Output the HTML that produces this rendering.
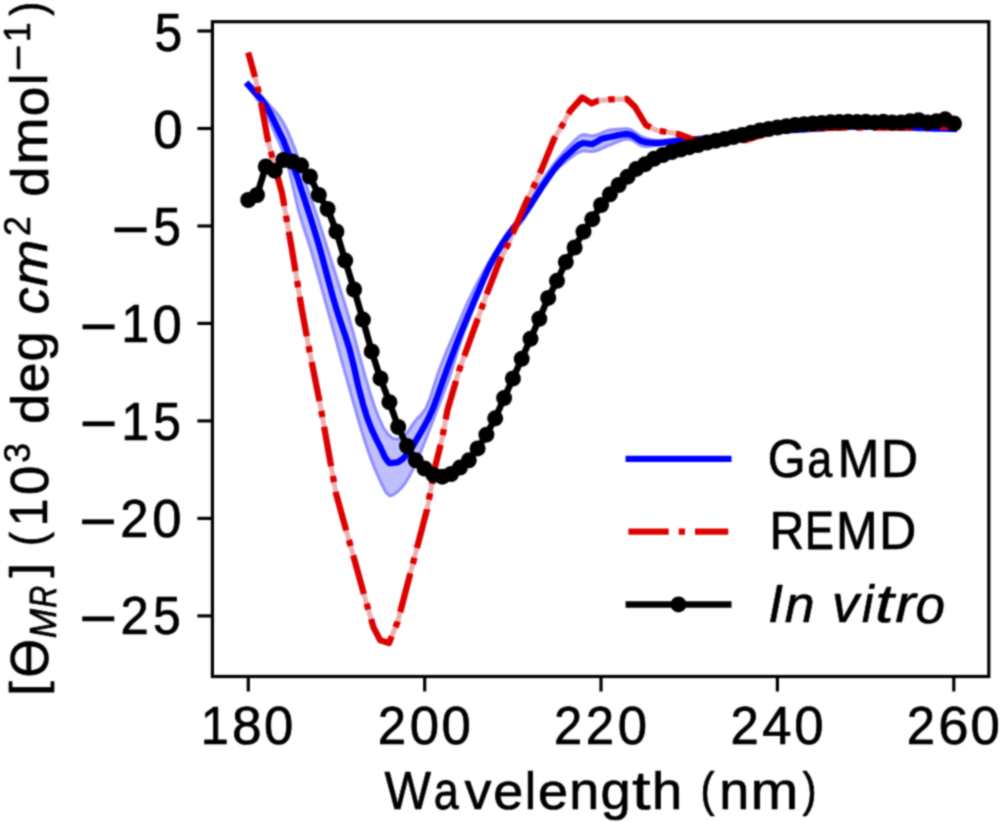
<!DOCTYPE html>
<html><head><meta charset="utf-8"><title>CD spectra</title><style>html,body{margin:0;padding:0;background:#fff;width:1001px;height:822px;overflow:hidden}svg{display:block;font-family:"Liberation Sans", sans-serif}</style></head><body>
<svg width="1001" height="822" viewBox="0 0 1001 822">
<rect x="0" y="0" width="1001" height="822" fill="#fff"/>
<defs><filter id="bl" x="0" y="0" width="1001" height="822" filterUnits="userSpaceOnUse" color-interpolation-filters="sRGB"><feConvolveMatrix order="5" kernelMatrix="0.00023 0.00332 0.00809 0.00332 0.00023 0.00332 0.04785 0.11640 0.04785 0.00332 0.00809 0.11640 0.28313 0.11640 0.00809 0.00332 0.04785 0.11640 0.04785 0.00332 0.00023 0.00332 0.00809 0.00332 0.00023" divisor="1" edgeMode="duplicate" preserveAlpha="true"/></filter></defs>
<g filter="url(#bl)">
<rect x="0" y="0" width="1001" height="822" fill="#fff"/>
<defs><clipPath id="ax"><rect x="212.4" y="21.7" width="776.4" height="654.8"/></clipPath></defs>
<g clip-path="url(#ax)">
<clipPath id="bandclip"><polygon points="248.2,80.5 252.6,84.6 257.0,89.0 261.4,93.8 265.8,98.8 270.2,103.8 274.7,108.7 279.1,113.7 283.5,120.2 287.9,128.3 292.3,138.5 296.7,149.6 301.1,161.9 305.5,179.0 309.9,191.3 314.3,203.6 318.8,216.7 323.2,230.5 327.6,244.6 332.0,258.4 336.4,272.3 340.8,286.2 345.2,300.2 349.6,314.8 354.0,330.3 358.4,346.5 362.9,362.7 367.3,378.5 371.7,393.3 376.1,406.7 380.5,418.1 384.9,427.5 389.3,433.6 393.7,437.3 398.1,437.6 402.5,435.0 407.0,430.8 411.4,423.8 415.8,418.1 420.2,413.6 424.6,407.8 429.0,397.1 433.4,382.8 437.8,369.4 442.2,358.2 446.6,347.6 451.1,337.2 455.5,326.8 459.9,316.5 464.3,306.3 468.7,296.7 473.1,287.8 477.5,279.4 481.9,271.4 486.3,263.7 490.7,256.2 495.2,248.9 499.6,241.7 504.0,235.0 508.4,228.9 512.8,223.6 517.2,218.7 521.6,213.5 526.0,207.3 530.4,199.2 534.8,190.2 539.3,182.5 543.7,175.7 548.1,169.4 552.5,163.5 556.9,157.9 561.3,152.5 565.7,147.5 570.1,143.1 574.5,138.7 578.9,134.8 583.4,133.0 587.8,133.8 592.2,134.5 596.6,133.5 601.0,131.7 605.4,129.7 609.8,128.5 614.2,128.1 618.6,127.7 623.0,127.4 627.5,127.3 631.9,128.4 636.3,131.2 640.7,134.4 645.1,136.4 649.5,137.8 653.9,138.8 658.3,139.0 662.7,138.8 667.1,138.5 671.6,138.0 676.0,137.6 680.4,137.1 684.8,136.8 689.2,136.4 693.6,136.1 698.0,135.8 702.4,135.4 706.8,135.1 711.2,134.7 715.7,134.4 720.1,134.0 724.5,133.6 728.9,133.2 733.3,132.7 737.7,132.3 742.1,131.8 746.5,131.3 750.9,130.8 755.3,130.3 759.8,129.9 764.2,129.4 768.6,129.0 773.0,128.6 777.4,128.2 781.8,127.9 786.2,127.5 790.6,127.2 795.0,126.9 799.4,126.7 803.9,126.4 808.3,126.1 812.7,125.8 817.1,125.6 821.5,125.3 825.9,125.1 830.3,124.7 834.7,124.4 839.1,124.1 843.5,123.8 848.0,123.6 852.4,123.5 856.8,123.5 861.2,123.5 865.6,123.6 870.0,123.7 874.4,123.8 878.8,123.9 883.2,124.1 887.6,124.2 892.1,124.3 896.5,124.5 900.9,124.6 905.3,124.7 909.7,124.8 914.1,124.9 918.5,125.0 922.9,125.1 927.3,125.3 931.7,125.4 936.2,125.5 940.6,125.6 945.0,125.7 949.4,125.9 953.8,126.0 953.8,132.0 949.4,131.9 945.0,131.7 940.6,131.6 936.2,131.5 931.7,131.4 927.3,131.3 922.9,131.1 918.5,131.0 914.1,130.9 909.7,130.8 905.3,130.7 900.9,130.6 896.5,130.5 892.1,130.3 887.6,130.2 883.2,130.1 878.8,129.9 874.4,129.8 870.0,129.7 865.6,129.6 861.2,129.5 856.8,129.5 852.4,129.5 848.0,129.6 843.5,129.8 839.1,130.1 834.7,130.4 830.3,130.7 825.9,131.1 821.5,131.3 817.1,131.6 812.7,131.8 808.3,132.1 803.9,132.4 799.4,132.7 795.0,132.9 790.6,133.2 786.2,133.5 781.8,133.9 777.4,134.2 773.0,134.6 768.6,135.0 764.2,135.4 759.8,135.8 755.3,136.3 750.9,136.8 746.5,137.2 742.1,137.7 737.7,138.2 733.3,138.7 728.9,139.1 724.5,139.6 720.1,140.0 715.7,140.4 711.2,140.8 706.8,141.2 702.4,141.5 698.0,141.9 693.6,142.3 689.2,142.7 684.8,143.2 680.4,143.7 676.0,144.3 671.6,145.0 667.1,145.6 662.7,146.3 658.3,146.8 653.9,147.3 649.5,147.7 645.1,148.0 640.7,147.2 636.3,144.4 631.9,141.6 627.5,140.5 623.0,141.3 618.6,142.9 614.2,144.8 609.8,146.6 605.4,148.4 601.0,150.4 596.6,152.2 592.2,153.0 587.8,152.7 583.4,152.3 578.9,153.7 574.5,156.7 570.1,160.0 565.7,163.4 561.3,167.1 556.9,171.4 552.5,176.1 548.1,181.4 543.7,187.2 539.3,193.6 534.8,201.1 530.4,210.1 526.0,218.3 521.6,224.4 517.2,229.7 512.8,234.6 508.4,239.9 504.0,245.9 499.6,252.4 495.2,259.7 490.7,268.3 486.3,279.6 481.9,291.2 477.5,302.1 473.1,312.9 468.7,324.0 464.3,335.6 459.9,348.4 455.5,362.7 451.1,376.9 446.6,389.2 442.2,400.7 437.8,412.0 433.4,423.6 429.0,435.0 424.6,446.0 420.2,456.7 415.8,466.8 411.4,475.4 407.0,483.1 402.5,488.9 398.1,493.0 393.7,496.3 389.3,497.5 384.9,493.5 380.5,484.9 376.1,475.2 371.7,465.0 367.3,452.9 362.9,439.8 358.4,424.9 354.0,409.7 349.6,394.2 345.2,378.6 340.8,362.8 336.4,346.8 332.0,330.9 327.6,315.0 323.2,299.1 318.8,283.0 314.3,266.9 309.9,251.5 305.5,237.5 301.1,224.3 296.7,209.6 292.3,190.3 287.9,171.6 283.5,157.5 279.1,145.9 274.7,136.5 270.2,125.9 265.8,115.3 261.4,107.9 257.0,101.5 252.6,95.1 248.2,89.0"/></clipPath>
<polygon points="248.2,80.5 252.6,84.6 257.0,89.0 261.4,93.8 265.8,98.8 270.2,103.8 274.7,108.7 279.1,113.7 283.5,120.2 287.9,128.3 292.3,138.5 296.7,149.6 301.1,161.9 305.5,179.0 309.9,191.3 314.3,203.6 318.8,216.7 323.2,230.5 327.6,244.6 332.0,258.4 336.4,272.3 340.8,286.2 345.2,300.2 349.6,314.8 354.0,330.3 358.4,346.5 362.9,362.7 367.3,378.5 371.7,393.3 376.1,406.7 380.5,418.1 384.9,427.5 389.3,433.6 393.7,437.3 398.1,437.6 402.5,435.0 407.0,430.8 411.4,423.8 415.8,418.1 420.2,413.6 424.6,407.8 429.0,397.1 433.4,382.8 437.8,369.4 442.2,358.2 446.6,347.6 451.1,337.2 455.5,326.8 459.9,316.5 464.3,306.3 468.7,296.7 473.1,287.8 477.5,279.4 481.9,271.4 486.3,263.7 490.7,256.2 495.2,248.9 499.6,241.7 504.0,235.0 508.4,228.9 512.8,223.6 517.2,218.7 521.6,213.5 526.0,207.3 530.4,199.2 534.8,190.2 539.3,182.5 543.7,175.7 548.1,169.4 552.5,163.5 556.9,157.9 561.3,152.5 565.7,147.5 570.1,143.1 574.5,138.7 578.9,134.8 583.4,133.0 587.8,133.8 592.2,134.5 596.6,133.5 601.0,131.7 605.4,129.7 609.8,128.5 614.2,128.1 618.6,127.7 623.0,127.4 627.5,127.3 631.9,128.4 636.3,131.2 640.7,134.4 645.1,136.4 649.5,137.8 653.9,138.8 658.3,139.0 662.7,138.8 667.1,138.5 671.6,138.0 676.0,137.6 680.4,137.1 684.8,136.8 689.2,136.4 693.6,136.1 698.0,135.8 702.4,135.4 706.8,135.1 711.2,134.7 715.7,134.4 720.1,134.0 724.5,133.6 728.9,133.2 733.3,132.7 737.7,132.3 742.1,131.8 746.5,131.3 750.9,130.8 755.3,130.3 759.8,129.9 764.2,129.4 768.6,129.0 773.0,128.6 777.4,128.2 781.8,127.9 786.2,127.5 790.6,127.2 795.0,126.9 799.4,126.7 803.9,126.4 808.3,126.1 812.7,125.8 817.1,125.6 821.5,125.3 825.9,125.1 830.3,124.7 834.7,124.4 839.1,124.1 843.5,123.8 848.0,123.6 852.4,123.5 856.8,123.5 861.2,123.5 865.6,123.6 870.0,123.7 874.4,123.8 878.8,123.9 883.2,124.1 887.6,124.2 892.1,124.3 896.5,124.5 900.9,124.6 905.3,124.7 909.7,124.8 914.1,124.9 918.5,125.0 922.9,125.1 927.3,125.3 931.7,125.4 936.2,125.5 940.6,125.6 945.0,125.7 949.4,125.9 953.8,126.0 953.8,132.0 949.4,131.9 945.0,131.7 940.6,131.6 936.2,131.5 931.7,131.4 927.3,131.3 922.9,131.1 918.5,131.0 914.1,130.9 909.7,130.8 905.3,130.7 900.9,130.6 896.5,130.5 892.1,130.3 887.6,130.2 883.2,130.1 878.8,129.9 874.4,129.8 870.0,129.7 865.6,129.6 861.2,129.5 856.8,129.5 852.4,129.5 848.0,129.6 843.5,129.8 839.1,130.1 834.7,130.4 830.3,130.7 825.9,131.1 821.5,131.3 817.1,131.6 812.7,131.8 808.3,132.1 803.9,132.4 799.4,132.7 795.0,132.9 790.6,133.2 786.2,133.5 781.8,133.9 777.4,134.2 773.0,134.6 768.6,135.0 764.2,135.4 759.8,135.8 755.3,136.3 750.9,136.8 746.5,137.2 742.1,137.7 737.7,138.2 733.3,138.7 728.9,139.1 724.5,139.6 720.1,140.0 715.7,140.4 711.2,140.8 706.8,141.2 702.4,141.5 698.0,141.9 693.6,142.3 689.2,142.7 684.8,143.2 680.4,143.7 676.0,144.3 671.6,145.0 667.1,145.6 662.7,146.3 658.3,146.8 653.9,147.3 649.5,147.7 645.1,148.0 640.7,147.2 636.3,144.4 631.9,141.6 627.5,140.5 623.0,141.3 618.6,142.9 614.2,144.8 609.8,146.6 605.4,148.4 601.0,150.4 596.6,152.2 592.2,153.0 587.8,152.7 583.4,152.3 578.9,153.7 574.5,156.7 570.1,160.0 565.7,163.4 561.3,167.1 556.9,171.4 552.5,176.1 548.1,181.4 543.7,187.2 539.3,193.6 534.8,201.1 530.4,210.1 526.0,218.3 521.6,224.4 517.2,229.7 512.8,234.6 508.4,239.9 504.0,245.9 499.6,252.4 495.2,259.7 490.7,268.3 486.3,279.6 481.9,291.2 477.5,302.1 473.1,312.9 468.7,324.0 464.3,335.6 459.9,348.4 455.5,362.7 451.1,376.9 446.6,389.2 442.2,400.7 437.8,412.0 433.4,423.6 429.0,435.0 424.6,446.0 420.2,456.7 415.8,466.8 411.4,475.4 407.0,483.1 402.5,488.9 398.1,493.0 393.7,496.3 389.3,497.5 384.9,493.5 380.5,484.9 376.1,475.2 371.7,465.0 367.3,452.9 362.9,439.8 358.4,424.9 354.0,409.7 349.6,394.2 345.2,378.6 340.8,362.8 336.4,346.8 332.0,330.9 327.6,315.0 323.2,299.1 318.8,283.0 314.3,266.9 309.9,251.5 305.5,237.5 301.1,224.3 296.7,209.6 292.3,190.3 287.9,171.6 283.5,157.5 279.1,145.9 274.7,136.5 270.2,125.9 265.8,115.3 261.4,107.9 257.0,101.5 252.6,95.1 248.2,89.0" fill="#0000ff" fill-opacity="0.25"/>
<polygon points="248.2,80.5 252.6,84.6 257.0,89.0 261.4,93.8 265.8,98.8 270.2,103.8 274.7,108.7 279.1,113.7 283.5,120.2 287.9,128.3 292.3,138.5 296.7,149.6 301.1,161.9 305.5,179.0 309.9,191.3 314.3,203.6 318.8,216.7 323.2,230.5 327.6,244.6 332.0,258.4 336.4,272.3 340.8,286.2 345.2,300.2 349.6,314.8 354.0,330.3 358.4,346.5 362.9,362.7 367.3,378.5 371.7,393.3 376.1,406.7 380.5,418.1 384.9,427.5 389.3,433.6 393.7,437.3 398.1,437.6 402.5,435.0 407.0,430.8 411.4,423.8 415.8,418.1 420.2,413.6 424.6,407.8 429.0,397.1 433.4,382.8 437.8,369.4 442.2,358.2 446.6,347.6 451.1,337.2 455.5,326.8 459.9,316.5 464.3,306.3 468.7,296.7 473.1,287.8 477.5,279.4 481.9,271.4 486.3,263.7 490.7,256.2 495.2,248.9 499.6,241.7 504.0,235.0 508.4,228.9 512.8,223.6 517.2,218.7 521.6,213.5 526.0,207.3 530.4,199.2 534.8,190.2 539.3,182.5 543.7,175.7 548.1,169.4 552.5,163.5 556.9,157.9 561.3,152.5 565.7,147.5 570.1,143.1 574.5,138.7 578.9,134.8 583.4,133.0 587.8,133.8 592.2,134.5 596.6,133.5 601.0,131.7 605.4,129.7 609.8,128.5 614.2,128.1 618.6,127.7 623.0,127.4 627.5,127.3 631.9,128.4 636.3,131.2 640.7,134.4 645.1,136.4 649.5,137.8 653.9,138.8 658.3,139.0 662.7,138.8 667.1,138.5 671.6,138.0 676.0,137.6 680.4,137.1 684.8,136.8 689.2,136.4 693.6,136.1 698.0,135.8 702.4,135.4 706.8,135.1 711.2,134.7 715.7,134.4 720.1,134.0 724.5,133.6 728.9,133.2 733.3,132.7 737.7,132.3 742.1,131.8 746.5,131.3 750.9,130.8 755.3,130.3 759.8,129.9 764.2,129.4 768.6,129.0 773.0,128.6 777.4,128.2 781.8,127.9 786.2,127.5 790.6,127.2 795.0,126.9 799.4,126.7 803.9,126.4 808.3,126.1 812.7,125.8 817.1,125.6 821.5,125.3 825.9,125.1 830.3,124.7 834.7,124.4 839.1,124.1 843.5,123.8 848.0,123.6 852.4,123.5 856.8,123.5 861.2,123.5 865.6,123.6 870.0,123.7 874.4,123.8 878.8,123.9 883.2,124.1 887.6,124.2 892.1,124.3 896.5,124.5 900.9,124.6 905.3,124.7 909.7,124.8 914.1,124.9 918.5,125.0 922.9,125.1 927.3,125.3 931.7,125.4 936.2,125.5 940.6,125.6 945.0,125.7 949.4,125.9 953.8,126.0 953.8,132.0 949.4,131.9 945.0,131.7 940.6,131.6 936.2,131.5 931.7,131.4 927.3,131.3 922.9,131.1 918.5,131.0 914.1,130.9 909.7,130.8 905.3,130.7 900.9,130.6 896.5,130.5 892.1,130.3 887.6,130.2 883.2,130.1 878.8,129.9 874.4,129.8 870.0,129.7 865.6,129.6 861.2,129.5 856.8,129.5 852.4,129.5 848.0,129.6 843.5,129.8 839.1,130.1 834.7,130.4 830.3,130.7 825.9,131.1 821.5,131.3 817.1,131.6 812.7,131.8 808.3,132.1 803.9,132.4 799.4,132.7 795.0,132.9 790.6,133.2 786.2,133.5 781.8,133.9 777.4,134.2 773.0,134.6 768.6,135.0 764.2,135.4 759.8,135.8 755.3,136.3 750.9,136.8 746.5,137.2 742.1,137.7 737.7,138.2 733.3,138.7 728.9,139.1 724.5,139.6 720.1,140.0 715.7,140.4 711.2,140.8 706.8,141.2 702.4,141.5 698.0,141.9 693.6,142.3 689.2,142.7 684.8,143.2 680.4,143.7 676.0,144.3 671.6,145.0 667.1,145.6 662.7,146.3 658.3,146.8 653.9,147.3 649.5,147.7 645.1,148.0 640.7,147.2 636.3,144.4 631.9,141.6 627.5,140.5 623.0,141.3 618.6,142.9 614.2,144.8 609.8,146.6 605.4,148.4 601.0,150.4 596.6,152.2 592.2,153.0 587.8,152.7 583.4,152.3 578.9,153.7 574.5,156.7 570.1,160.0 565.7,163.4 561.3,167.1 556.9,171.4 552.5,176.1 548.1,181.4 543.7,187.2 539.3,193.6 534.8,201.1 530.4,210.1 526.0,218.3 521.6,224.4 517.2,229.7 512.8,234.6 508.4,239.9 504.0,245.9 499.6,252.4 495.2,259.7 490.7,268.3 486.3,279.6 481.9,291.2 477.5,302.1 473.1,312.9 468.7,324.0 464.3,335.6 459.9,348.4 455.5,362.7 451.1,376.9 446.6,389.2 442.2,400.7 437.8,412.0 433.4,423.6 429.0,435.0 424.6,446.0 420.2,456.7 415.8,466.8 411.4,475.4 407.0,483.1 402.5,488.9 398.1,493.0 393.7,496.3 389.3,497.5 384.9,493.5 380.5,484.9 376.1,475.2 371.7,465.0 367.3,452.9 362.9,439.8 358.4,424.9 354.0,409.7 349.6,394.2 345.2,378.6 340.8,362.8 336.4,346.8 332.0,330.9 327.6,315.0 323.2,299.1 318.8,283.0 314.3,266.9 309.9,251.5 305.5,237.5 301.1,224.3 296.7,209.6 292.3,190.3 287.9,171.6 283.5,157.5 279.1,145.9 274.7,136.5 270.2,125.9 265.8,115.3 261.4,107.9 257.0,101.5 252.6,95.1 248.2,89.0" fill="none" clip-path="url(#bandclip)" stroke="#0000ff" stroke-opacity="0.25" stroke-width="6.0" stroke-linejoin="round"/>
<polyline points="248.2,52.5 255.8,80.0 260.9,101.9 267.5,138.3 271.9,155.8 282.0,193.0 291.7,248.3 301.9,309.9 309.4,350.4 320.1,404.0 328.2,450.0 336.0,493.5 349.4,541.7 364.2,595.2 373.5,627.4 380.2,640.2 389.0,643.0 397.6,622.0 413.7,560.4 427.0,509.6 435.1,466.8 441.8,440.0 447.5,409.9 459.2,370.2 472.3,333.8 486.0,296.0 499.2,261.8 509.4,241.3 525.5,203.4 534.0,185.8 542.0,168.4 554.1,138.9 562.1,125.5 570.2,110.8 582.2,97.4 591.6,103.4 598.3,100.7 610.0,99.4 627.0,98.9 635.1,107.0 645.9,125.0 656.7,130.4 678.3,134.0 692.7,139.4 720.0,141.0 746.0,140.0 780.0,129.0 820.0,128.0 870.0,127.5 907.0,127.5 953.8,126.5" fill="none" stroke="#eeb0b0" stroke-width="5.0" stroke-linejoin="round" stroke-linecap="butt"/>
<polyline points="248.2,85.0 252.6,89.8 257.0,94.6 261.4,99.4 265.8,105.5 270.2,113.2 274.7,122.3 279.1,131.7 283.5,140.5 287.9,152.1 292.3,163.3 296.7,175.3 301.1,189.0 305.5,202.2 309.9,215.7 314.3,229.9 318.8,244.8 323.2,260.8 327.6,277.4 332.0,293.7 336.4,309.0 340.8,322.4 345.2,335.2 349.6,349.3 354.0,367.0 358.4,386.7 362.9,403.8 367.3,418.2 371.7,429.4 376.1,438.9 380.5,447.5 384.9,457.3 389.3,463.0 393.7,462.8 398.1,462.2 402.5,459.2 407.0,454.4 411.4,448.4 415.8,440.9 420.2,433.3 424.6,425.6 429.0,417.2 433.4,407.4 437.8,395.2 442.2,382.5 446.6,370.3 451.1,358.2 455.5,346.6 459.9,335.4 464.3,324.6 468.7,314.0 473.1,303.7 477.5,293.5 481.9,283.3 486.3,273.2 490.7,263.9 495.2,255.6 499.6,248.2 504.0,241.3 508.4,234.8 512.8,228.9 517.2,223.4 521.6,217.8 526.0,211.7 530.4,205.2 534.8,198.3 539.3,191.3 543.7,184.4 548.1,177.9 552.5,171.6 556.9,165.9 561.3,160.9 565.7,156.3 570.1,152.4 574.5,148.3 578.9,144.7 583.4,143.0 587.8,143.6 592.2,144.2 596.6,141.8 601.0,139.0 605.4,137.9 609.8,137.0 614.2,136.1 618.6,135.1 623.0,134.4 627.5,134.0 631.9,135.1 636.3,137.9 640.7,140.8 645.1,142.1 649.5,142.6 653.9,142.9 658.3,143.0 662.7,142.7 667.1,142.2 671.6,141.6 676.0,141.0 680.4,140.5 684.8,140.1 689.2,139.8 693.6,139.5 698.0,139.2 702.4,138.8 706.8,138.4 711.2,137.9 715.7,137.4 720.1,137.0 724.5,136.6 728.9,136.1 733.3,135.7 737.7,135.2 742.1,134.8 746.5,134.3 750.9,133.9 755.3,133.4 759.8,133.0 764.2,132.5 768.6,132.1 773.0,131.6 777.4,131.2 781.8,130.9 786.2,130.5 790.6,130.2 795.0,129.9 799.4,129.6 803.9,129.4 808.3,129.1 812.7,128.8 817.1,128.6 821.5,128.3 825.9,128.1 830.3,127.7 834.7,127.4 839.1,127.1 843.5,126.8 848.0,126.6 852.4,126.5 856.8,126.5 861.2,126.5 865.6,126.6 870.0,126.7 874.4,126.8 878.8,126.9 883.2,127.1 887.6,127.2 892.1,127.3 896.5,127.5 900.9,127.6 905.3,127.7 909.7,127.8 914.1,127.9 918.5,128.0 922.9,128.1 927.3,128.3 931.7,128.4 936.2,128.5 940.6,128.6 945.0,128.7 949.4,128.9 953.8,129.0" fill="none" stroke="#0000ff" stroke-width="6.3" stroke-linejoin="round" stroke-linecap="square"/>
<path d="M248.2,52.5 L255.0,77.0 M257.4,86.7 L258.8,92.7 M261.0,102.5 L267.5,138.3 L268.4,142.0 M270.8,151.5 L271.9,155.8 L272.4,157.7 M275.0,167.1 L282.0,193.0 L284.3,206.0 M286.0,215.8 L287.1,222.0 M288.8,231.8 L291.7,248.3 L295.5,271.2 M297.1,280.9 L298.1,287.2 M299.7,296.9 L301.9,309.9 L306.8,336.3 M308.6,346.1 L309.4,350.4 L309.8,352.2 M311.7,362.0 L319.5,401.2 M321.3,410.9 L322.4,417.0 M324.1,426.8 L328.2,450.0 L331.1,466.2 M332.9,476.0 L334.0,482.1 M335.7,491.8 L336.0,493.5 L346.2,530.4 M348.9,540.0 L349.4,541.7 L350.6,546.0 M353.2,555.4 L363.9,594.0 M366.6,603.6 L368.3,609.5 M371.1,619.0 L373.5,627.4 L380.2,640.2 L389.0,643.0 L391.7,636.4 M395.4,627.3 L397.6,622.0 L397.7,621.6 M400.2,612.1 L410.3,573.4 M412.8,563.9 L413.7,560.4 L414.4,557.7 M416.9,548.0 L427.0,509.6 L427.0,509.3 M428.9,499.7 L430.1,493.4 M431.9,483.8 L435.1,466.8 L440.6,444.8 M442.7,435.2 L443.9,429.1 M445.7,419.3 L447.5,409.9 L456.0,380.9 M458.9,371.3 L459.2,370.2 L460.9,365.4 M464.3,356.0 L472.3,333.8 L477.8,318.6 M481.2,309.2 L483.3,303.4 M486.7,294.2 L499.2,261.8 L501.6,257.1 M505.9,248.3 L508.8,242.6 M512.7,233.6 L525.5,203.4 L528.6,196.9 M532.9,188.1 L534.0,185.8 L535.6,182.3 M539.7,173.4 L542.0,168.4 L554.1,138.9 L555.5,136.6 M560.6,128.0 L562.1,125.5 L563.7,122.7 M568.5,113.9 L570.2,110.8 L582.2,97.4 L591.6,103.4 L598.3,100.7 L598.6,100.7 M608.3,99.6 L610.0,99.4 L614.7,99.3 M624.7,99.0 L627.0,98.9 L635.1,107.0 L645.9,125.0 L650.6,127.4 M659.8,130.9 L666.2,132.0 M676.0,133.6 L678.3,134.0 L692.7,139.4 L715.2,140.7 M725.2,140.8 L731.6,140.6 M741.5,140.2 L746.0,140.0 L780.0,129.0 L780.0,129.0 M790.0,128.7 L796.4,128.6 M806.4,128.3 L820.0,128.0 L846.6,127.7 M856.6,127.6 L863.0,127.6 M873.0,127.5 L907.0,127.5 L913.2,127.4 M923.2,127.2 L929.6,127.0 M939.6,126.8 L953.8,126.5" fill="none" stroke="#dc0000" stroke-width="6.3" stroke-linejoin="round" stroke-linecap="butt"/>
<polyline points="248.2,200.0 257.0,195.0 265.8,166.5 274.7,170.7 283.5,160.0 292.3,161.5 301.1,165.3 310.0,176.5 318.8,194.9 327.6,209.0 336.4,231.5 345.2,260.6 354.1,289.5 362.9,319.6 371.7,351.4 380.5,378.4 389.4,402.2 398.2,427.0 407.0,446.0 415.8,460.3 424.6,468.5 433.5,474.9 442.3,476.7 451.1,474.0 459.9,467.6 468.8,460.3 477.6,448.4 486.4,434.7 495.2,418.3 504.1,398.0 512.9,378.5 521.7,358.8 530.5,338.8 539.3,318.8 548.2,297.9 557.0,280.8 565.8,262.1 574.6,247.5 583.5,231.7 592.3,219.2 601.1,205.0 609.9,194.3 618.7,185.0 627.6,176.7 636.4,168.9 645.2,164.2 654.0,158.8 662.9,155.0 671.7,152.0 680.5,149.5 689.3,147.2 698.1,145.0 707.0,142.6 715.8,140.8 724.6,139.0 733.4,137.0 742.3,135.0 751.1,132.7 759.9,130.5 768.7,129.0 777.5,127.5 786.4,126.2 795.2,125.0 804.0,124.2 812.8,123.5 821.7,122.9 830.5,122.3 839.3,122.0 848.1,121.8 857.0,122.0 865.8,121.8 874.6,122.4 883.4,121.8 892.2,122.4 901.1,122.4 909.9,121.3 918.7,120.2 927.5,122.4 936.4,121.3 945.2,119.3 954.0,123.5" fill="none" stroke="#000" stroke-width="6.5" stroke-linejoin="round" stroke-linecap="square"/>
<g fill="#000"><circle cx="248.2" cy="200.0" r="8.0"/><circle cx="257.0" cy="195.0" r="8.0"/><circle cx="265.8" cy="166.5" r="8.0"/><circle cx="274.7" cy="170.7" r="8.0"/><circle cx="283.5" cy="160.0" r="8.0"/><circle cx="292.3" cy="161.5" r="8.0"/><circle cx="301.1" cy="165.3" r="8.0"/><circle cx="310.0" cy="176.5" r="8.0"/><circle cx="318.8" cy="194.9" r="8.0"/><circle cx="327.6" cy="209.0" r="8.0"/><circle cx="336.4" cy="231.5" r="8.0"/><circle cx="345.2" cy="260.6" r="8.0"/><circle cx="354.1" cy="289.5" r="8.0"/><circle cx="362.9" cy="319.6" r="8.0"/><circle cx="371.7" cy="351.4" r="8.0"/><circle cx="380.5" cy="378.4" r="8.0"/><circle cx="389.4" cy="402.2" r="8.0"/><circle cx="398.2" cy="427.0" r="8.0"/><circle cx="407.0" cy="446.0" r="8.0"/><circle cx="415.8" cy="460.3" r="8.0"/><circle cx="424.6" cy="468.5" r="8.0"/><circle cx="433.5" cy="474.9" r="8.0"/><circle cx="442.3" cy="476.7" r="8.0"/><circle cx="451.1" cy="474.0" r="8.0"/><circle cx="459.9" cy="467.6" r="8.0"/><circle cx="468.8" cy="460.3" r="8.0"/><circle cx="477.6" cy="448.4" r="8.0"/><circle cx="486.4" cy="434.7" r="8.0"/><circle cx="495.2" cy="418.3" r="8.0"/><circle cx="504.1" cy="398.0" r="8.0"/><circle cx="512.9" cy="378.5" r="8.0"/><circle cx="521.7" cy="358.8" r="8.0"/><circle cx="530.5" cy="338.8" r="8.0"/><circle cx="539.3" cy="318.8" r="8.0"/><circle cx="548.2" cy="297.9" r="8.0"/><circle cx="557.0" cy="280.8" r="8.0"/><circle cx="565.8" cy="262.1" r="8.0"/><circle cx="574.6" cy="247.5" r="8.0"/><circle cx="583.5" cy="231.7" r="8.0"/><circle cx="592.3" cy="219.2" r="8.0"/><circle cx="601.1" cy="205.0" r="8.0"/><circle cx="609.9" cy="194.3" r="8.0"/><circle cx="618.7" cy="185.0" r="8.0"/><circle cx="627.6" cy="176.7" r="8.0"/><circle cx="636.4" cy="168.9" r="8.0"/><circle cx="645.2" cy="164.2" r="8.0"/><circle cx="654.0" cy="158.8" r="8.0"/><circle cx="662.9" cy="155.0" r="8.0"/><circle cx="671.7" cy="152.0" r="8.0"/><circle cx="680.5" cy="149.5" r="8.0"/><circle cx="689.3" cy="147.2" r="8.0"/><circle cx="698.1" cy="145.0" r="8.0"/><circle cx="707.0" cy="142.6" r="8.0"/><circle cx="715.8" cy="140.8" r="8.0"/><circle cx="724.6" cy="139.0" r="8.0"/><circle cx="733.4" cy="137.0" r="8.0"/><circle cx="742.3" cy="135.0" r="8.0"/><circle cx="751.1" cy="132.7" r="8.0"/><circle cx="759.9" cy="130.5" r="8.0"/><circle cx="768.7" cy="129.0" r="8.0"/><circle cx="777.5" cy="127.5" r="8.0"/><circle cx="786.4" cy="126.2" r="8.0"/><circle cx="795.2" cy="125.0" r="8.0"/><circle cx="804.0" cy="124.2" r="8.0"/><circle cx="812.8" cy="123.5" r="8.0"/><circle cx="821.7" cy="122.9" r="8.0"/><circle cx="830.5" cy="122.3" r="8.0"/><circle cx="839.3" cy="122.0" r="8.0"/><circle cx="848.1" cy="121.8" r="8.0"/><circle cx="857.0" cy="122.0" r="8.0"/><circle cx="865.8" cy="121.8" r="8.0"/><circle cx="874.6" cy="122.4" r="8.0"/><circle cx="883.4" cy="121.8" r="8.0"/><circle cx="892.2" cy="122.4" r="8.0"/><circle cx="901.1" cy="122.4" r="8.0"/><circle cx="909.9" cy="121.3" r="8.0"/><circle cx="918.7" cy="120.2" r="8.0"/><circle cx="927.5" cy="122.4" r="8.0"/><circle cx="936.4" cy="121.3" r="8.0"/><circle cx="945.2" cy="119.3" r="8.0"/><circle cx="954.0" cy="123.5" r="8.0"/></g>
</g>
<rect x="212.4" y="21.7" width="776.4" height="654.8" fill="none" stroke="#000" stroke-width="3.2" stroke-linejoin="miter"/>
<g stroke="#000" stroke-width="3.2"><line x1="197.4" y1="31.0" x2="212.4" y2="31.0"/><line x1="197.4" y1="128.5" x2="212.4" y2="128.5"/><line x1="197.4" y1="226.0" x2="212.4" y2="226.0"/><line x1="197.4" y1="323.4" x2="212.4" y2="323.4"/><line x1="197.4" y1="420.9" x2="212.4" y2="420.9"/><line x1="197.4" y1="518.4" x2="212.4" y2="518.4"/><line x1="197.4" y1="615.9" x2="212.4" y2="615.9"/><line x1="248.3" y1="676.5" x2="248.3" y2="691.5"/><line x1="424.7" y1="676.5" x2="424.7" y2="691.5"/><line x1="601.0" y1="676.5" x2="601.0" y2="691.5"/><line x1="777.4" y1="676.5" x2="777.4" y2="691.5"/><line x1="953.8" y1="676.5" x2="953.8" y2="691.5"/></g>
<line x1="625.6" y1="458.8" x2="731.5" y2="458.8" stroke="#0000ff" stroke-width="6.3"/>
<line x1="628.4" y1="531.7" x2="728.3" y2="531.7" stroke="#dc0000" stroke-width="6.3" stroke-dasharray="40.3,10,6.3,10"/>
<line x1="625.6" y1="604.4" x2="731.5" y2="604.4" stroke="#000" stroke-width="6.5"/>
<circle cx="678.5" cy="604.4" r="8.0" fill="#000"/>
<text transform="matrix(0.4974,0,0,0.5325,154.42,50.79)" font-family='"Liberation Sans", sans-serif' font-size="100" font-style="normal" fill="#000" stroke="#000" stroke-width="1.359" stroke-linejoin="round">5</text>
<text transform="matrix(0.5271,0,0,0.5341,153.15,148.04)" font-family='"Liberation Sans", sans-serif' font-size="100" font-style="normal" fill="#000" stroke="#000" stroke-width="1.319" stroke-linejoin="round">0</text>
<text transform="matrix(0.6442,0,0,0.5822,111.68,248.79)" font-family='"Liberation Sans", sans-serif' font-size="100" font-style="normal" fill="#000" stroke="#000" stroke-width="1.142" stroke-linejoin="round">−</text><text transform="matrix(0.4974,0,0,0.5325,153.32,245.29)" font-family='"Liberation Sans", sans-serif' font-size="100" font-style="normal" fill="#000" stroke="#000" stroke-width="1.359" stroke-linejoin="round">5</text>
<text transform="matrix(0.6442,0,0,0.5822,79.72,346.04)" font-family='"Liberation Sans", sans-serif' font-size="100" font-style="normal" fill="#000" stroke="#000" stroke-width="1.142" stroke-linejoin="round">−</text><text transform="matrix(0.5034,0,0,0.5298,121.16,342.35)" font-family='"Liberation Sans", sans-serif' font-size="100" font-style="normal" fill="#000" stroke="#000" stroke-width="1.355" stroke-linejoin="round">1</text><text transform="matrix(0.5271,0,0,0.5341,152.55,342.54)" font-family='"Liberation Sans", sans-serif' font-size="100" font-style="normal" fill="#000" stroke="#000" stroke-width="1.319" stroke-linejoin="round">0</text>
<text transform="matrix(0.6442,0,0,0.5822,79.77,443.29)" font-family='"Liberation Sans", sans-serif' font-size="100" font-style="normal" fill="#000" stroke="#000" stroke-width="1.142" stroke-linejoin="round">−</text><text transform="matrix(0.5034,0,0,0.5298,121.21,439.60)" font-family='"Liberation Sans", sans-serif' font-size="100" font-style="normal" fill="#000" stroke="#000" stroke-width="1.355" stroke-linejoin="round">1</text><text transform="matrix(0.4974,0,0,0.5325,153.22,439.79)" font-family='"Liberation Sans", sans-serif' font-size="100" font-style="normal" fill="#000" stroke="#000" stroke-width="1.359" stroke-linejoin="round">5</text>
<text transform="matrix(0.6442,0,0,0.5822,79.32,540.54)" font-family='"Liberation Sans", sans-serif' font-size="100" font-style="normal" fill="#000" stroke="#000" stroke-width="1.142" stroke-linejoin="round">−</text><text transform="matrix(0.5080,0,0,0.5315,120.20,536.85)" font-family='"Liberation Sans", sans-serif' font-size="100" font-style="normal" fill="#000" stroke="#000" stroke-width="1.347" stroke-linejoin="round">2</text><text transform="matrix(0.5271,0,0,0.5341,152.15,537.04)" font-family='"Liberation Sans", sans-serif' font-size="100" font-style="normal" fill="#000" stroke="#000" stroke-width="1.319" stroke-linejoin="round">0</text>
<text transform="matrix(0.6442,0,0,0.5822,79.57,637.79)" font-family='"Liberation Sans", sans-serif' font-size="100" font-style="normal" fill="#000" stroke="#000" stroke-width="1.142" stroke-linejoin="round">−</text><text transform="matrix(0.5080,0,0,0.5315,120.45,634.10)" font-family='"Liberation Sans", sans-serif' font-size="100" font-style="normal" fill="#000" stroke="#000" stroke-width="1.347" stroke-linejoin="round">2</text><text transform="matrix(0.4974,0,0,0.5325,153.02,634.29)" font-family='"Liberation Sans", sans-serif' font-size="100" font-style="normal" fill="#000" stroke="#000" stroke-width="1.359" stroke-linejoin="round">5</text>
<text transform="matrix(0.5034,0,0,0.5298,200.85,744.30)" font-family='"Liberation Sans", sans-serif' font-size="100" font-style="normal" fill="#000" stroke="#000" stroke-width="1.355" stroke-linejoin="round">1</text><text transform="matrix(0.5328,0,0,0.5341,232.09,744.49)" font-family='"Liberation Sans", sans-serif' font-size="100" font-style="normal" fill="#000" stroke="#000" stroke-width="1.312" stroke-linejoin="round">8</text><text transform="matrix(0.5271,0,0,0.5341,264.06,744.49)" font-family='"Liberation Sans", sans-serif' font-size="100" font-style="normal" fill="#000" stroke="#000" stroke-width="1.319" stroke-linejoin="round">0</text>
<text transform="matrix(0.5080,0,0,0.5315,377.72,744.30)" font-family='"Liberation Sans", sans-serif' font-size="100" font-style="normal" fill="#000" stroke="#000" stroke-width="1.347" stroke-linejoin="round">2</text><text transform="matrix(0.5271,0,0,0.5341,409.66,744.49)" font-family='"Liberation Sans", sans-serif' font-size="100" font-style="normal" fill="#000" stroke="#000" stroke-width="1.319" stroke-linejoin="round">0</text><text transform="matrix(0.5271,0,0,0.5341,441.47,744.49)" font-family='"Liberation Sans", sans-serif' font-size="100" font-style="normal" fill="#000" stroke="#000" stroke-width="1.319" stroke-linejoin="round">0</text>
<text transform="matrix(0.5080,0,0,0.5315,553.92,744.30)" font-family='"Liberation Sans", sans-serif' font-size="100" font-style="normal" fill="#000" stroke="#000" stroke-width="1.347" stroke-linejoin="round">2</text><text transform="matrix(0.5080,0,0,0.5315,585.73,744.30)" font-family='"Liberation Sans", sans-serif' font-size="100" font-style="normal" fill="#000" stroke="#000" stroke-width="1.347" stroke-linejoin="round">2</text><text transform="matrix(0.5271,0,0,0.5341,617.67,744.49)" font-family='"Liberation Sans", sans-serif' font-size="100" font-style="normal" fill="#000" stroke="#000" stroke-width="1.319" stroke-linejoin="round">0</text>
<text transform="matrix(0.5080,0,0,0.5315,730.42,744.30)" font-family='"Liberation Sans", sans-serif' font-size="100" font-style="normal" fill="#000" stroke="#000" stroke-width="1.347" stroke-linejoin="round">2</text><text transform="matrix(0.5271,0,0,0.5298,762.36,744.30)" font-family='"Liberation Sans", sans-serif' font-size="100" font-style="normal" fill="#000" stroke="#000" stroke-width="1.325" stroke-linejoin="round">4</text><text transform="matrix(0.5271,0,0,0.5341,794.17,744.49)" font-family='"Liberation Sans", sans-serif' font-size="100" font-style="normal" fill="#000" stroke="#000" stroke-width="1.319" stroke-linejoin="round">0</text>
<text transform="matrix(0.5080,0,0,0.5315,906.72,744.30)" font-family='"Liberation Sans", sans-serif' font-size="100" font-style="normal" fill="#000" stroke="#000" stroke-width="1.347" stroke-linejoin="round">2</text><text transform="matrix(0.5455,0,0,0.5341,938.14,744.49)" font-family='"Liberation Sans", sans-serif' font-size="100" font-style="normal" fill="#000" stroke="#000" stroke-width="1.297" stroke-linejoin="round">6</text><text transform="matrix(0.5271,0,0,0.5341,970.47,744.49)" font-family='"Liberation Sans", sans-serif' font-size="100" font-style="normal" fill="#000" stroke="#000" stroke-width="1.319" stroke-linejoin="round">0</text>
<text transform="matrix(0.4930,0,0,0.5298,384.61,809.00)" font-family='"Liberation Sans", sans-serif' font-size="100" font-style="normal" fill="#000" stroke="#000" stroke-width="1.369" stroke-linejoin="round">W</text><text transform="matrix(0.4496,0,0,0.5241,433.70,809.20)" font-family='"Liberation Sans", sans-serif' font-size="100" font-style="normal" fill="#000" stroke="#000" stroke-width="1.438" stroke-linejoin="round">a</text><text transform="matrix(0.5396,0,0,0.5176,464.55,809.00)" font-family='"Liberation Sans", sans-serif' font-size="100" font-style="normal" fill="#000" stroke="#000" stroke-width="1.324" stroke-linejoin="round">v</text><text transform="matrix(0.5401,0,0,0.5241,493.30,809.20)" font-family='"Liberation Sans", sans-serif' font-size="100" font-style="normal" fill="#000" stroke="#000" stroke-width="1.316" stroke-linejoin="round">e</text><text transform="matrix(0.5111,0,0,0.5243,524.86,809.00)" font-family='"Liberation Sans", sans-serif' font-size="100" font-style="normal" fill="#000" stroke="#000" stroke-width="1.352" stroke-linejoin="round">l</text><text transform="matrix(0.5401,0,0,0.5241,537.95,809.20)" font-family='"Liberation Sans", sans-serif' font-size="100" font-style="normal" fill="#000" stroke="#000" stroke-width="1.316" stroke-linejoin="round">e</text><text transform="matrix(0.5391,0,0,0.5204,569.21,809.00)" font-family='"Liberation Sans", sans-serif' font-size="100" font-style="normal" fill="#000" stroke="#000" stroke-width="1.321" stroke-linejoin="round">n</text><text transform="matrix(0.5434,0,0,0.5161,600.41,808.69)" font-family='"Liberation Sans", sans-serif' font-size="100" font-style="normal" fill="#000" stroke="#000" stroke-width="1.321" stroke-linejoin="round">g</text><text transform="matrix(0.6683,0,0,0.5366,632.01,808.58)" font-family='"Liberation Sans", sans-serif' font-size="100" font-style="normal" fill="#000" stroke="#000" stroke-width="1.162" stroke-linejoin="round">t</text><text transform="matrix(0.5428,0,0,0.5243,652.06,809.00)" font-family='"Liberation Sans", sans-serif' font-size="100" font-style="normal" fill="#000" stroke="#000" stroke-width="1.312" stroke-linejoin="round">h</text><text transform="matrix(0.4227,0,0,0.4780,700.54,805.70)" font-family='"Liberation Sans", sans-serif' font-size="100" font-style="normal" fill="#000" stroke="#000" stroke-width="1.554" stroke-linejoin="round">(</text><text transform="matrix(0.5391,0,0,0.5204,719.33,809.00)" font-family='"Liberation Sans", sans-serif' font-size="100" font-style="normal" fill="#000" stroke="#000" stroke-width="1.321" stroke-linejoin="round">n</text><text transform="matrix(0.5697,0,0,0.5204,750.82,809.00)" font-family='"Liberation Sans", sans-serif' font-size="100" font-style="normal" fill="#000" stroke="#000" stroke-width="1.284" stroke-linejoin="round">m</text><text transform="matrix(0.4227,0,0,0.4780,802.52,805.70)" font-family='"Liberation Sans", sans-serif' font-size="100" font-style="normal" fill="#000" stroke="#000" stroke-width="1.554" stroke-linejoin="round">)</text>
<text transform="matrix(0.4877,0,0,0.5341,767.82,476.69)" font-family='"Liberation Sans", sans-serif' font-size="100" font-style="normal" fill="#000" stroke="#000" stroke-width="1.370" stroke-linejoin="round">G</text><text transform="matrix(0.4496,0,0,0.5241,807.30,476.70)" font-family='"Liberation Sans", sans-serif' font-size="100" font-style="normal" fill="#000" stroke="#000" stroke-width="1.438" stroke-linejoin="round">a</text><text transform="matrix(0.4985,0,0,0.5298,837.66,476.50)" font-family='"Liberation Sans", sans-serif' font-size="100" font-style="normal" fill="#000" stroke="#000" stroke-width="1.361" stroke-linejoin="round">M</text><text transform="matrix(0.5173,0,0,0.5298,880.65,476.50)" font-family='"Liberation Sans", sans-serif' font-size="100" font-style="normal" fill="#000" stroke="#000" stroke-width="1.337" stroke-linejoin="round">D</text>
<text transform="matrix(0.4782,0,0,0.5298,769.87,549.40)" font-family='"Liberation Sans", sans-serif' font-size="100" font-style="normal" fill="#000" stroke="#000" stroke-width="1.389" stroke-linejoin="round">R</text><text transform="matrix(0.4333,0,0,0.5298,804.98,549.40)" font-family='"Liberation Sans", sans-serif' font-size="100" font-style="normal" fill="#000" stroke="#000" stroke-width="1.454" stroke-linejoin="round">E</text><text transform="matrix(0.4985,0,0,0.5298,836.04,549.40)" font-family='"Liberation Sans", sans-serif' font-size="100" font-style="normal" fill="#000" stroke="#000" stroke-width="1.361" stroke-linejoin="round">M</text><text transform="matrix(0.5173,0,0,0.5298,879.02,549.40)" font-family='"Liberation Sans", sans-serif' font-size="100" font-style="normal" fill="#000" stroke="#000" stroke-width="1.337" stroke-linejoin="round">D</text>
<text transform="matrix(0.5312,0,0,0.5298,768.29,622.30)" font-family='"Liberation Sans", sans-serif' font-size="100" font-style="italic" fill="#000" stroke="#000" stroke-width="1.320" stroke-linejoin="round">I</text><text transform="matrix(0.5371,0,0,0.5209,784.66,622.30)" font-family='"Liberation Sans", sans-serif' font-size="100" font-style="italic" fill="#000" stroke="#000" stroke-width="1.323" stroke-linejoin="round">n</text><text transform="matrix(0.5396,0,0,0.5176,832.01,622.30)" font-family='"Liberation Sans", sans-serif' font-size="100" font-style="italic" fill="#000" stroke="#000" stroke-width="1.324" stroke-linejoin="round">v</text><text transform="matrix(0.5203,0,0,0.5243,861.88,622.30)" font-family='"Liberation Sans", sans-serif' font-size="100" font-style="italic" fill="#000" stroke="#000" stroke-width="1.340" stroke-linejoin="round">i</text><text transform="matrix(0.6718,0,0,0.5350,875.00,621.78)" font-family='"Liberation Sans", sans-serif' font-size="100" font-style="italic" fill="#000" stroke="#000" stroke-width="1.160" stroke-linejoin="round">t</text><text transform="matrix(0.6109,0,0,0.5204,895.20,622.30)" font-family='"Liberation Sans", sans-serif' font-size="100" font-style="italic" fill="#000" stroke="#000" stroke-width="1.238" stroke-linejoin="round">r</text><text transform="matrix(0.5288,0,0,0.5245,915.58,622.50)" font-family='"Liberation Sans", sans-serif' font-size="100" font-style="italic" fill="#000" stroke="#000" stroke-width="1.329" stroke-linejoin="round">o</text>
<g transform="rotate(-90)">
<text transform="matrix(0.5209,0,0,0.4783,-695.79,44.07)" font-family='"Liberation Sans", sans-serif' font-size="100" font-style="normal" fill="#000" stroke="#000" stroke-width="1.401" stroke-linejoin="round">[</text>
<text transform="matrix(0.4943,0,0,0.5341,-677.61,47.59)" font-family='"Liberation Sans", sans-serif' font-size="100" font-style="normal" fill="#000" stroke="#000" stroke-width="1.361" stroke-linejoin="round">ϴ</text>
<text transform="matrix(0.3530,0,0,0.3709,-638.22,56.20)" font-family='"Liberation Sans", sans-serif' font-size="100" font-style="italic" fill="#000" stroke="#000" stroke-width="1.934" stroke-linejoin="round">M</text><text transform="matrix(0.3037,0,0,0.3709,-607.87,56.20)" font-family='"Liberation Sans", sans-serif' font-size="100" font-style="italic" fill="#000" stroke="#000" stroke-width="2.075" stroke-linejoin="round">R</text>
<text transform="matrix(0.5209,0,0,0.4783,-577.48,44.07)" font-family='"Liberation Sans", sans-serif' font-size="100" font-style="normal" fill="#000" stroke="#000" stroke-width="1.401" stroke-linejoin="round">]</text>
<text transform="matrix(0.4227,0,0,0.4780,-545.93,44.10)" font-family='"Liberation Sans", sans-serif' font-size="100" font-style="normal" fill="#000" stroke="#000" stroke-width="1.554" stroke-linejoin="round">(</text><text transform="matrix(0.5034,0,0,0.5298,-526.44,47.40)" font-family='"Liberation Sans", sans-serif' font-size="100" font-style="normal" fill="#000" stroke="#000" stroke-width="1.355" stroke-linejoin="round">1</text><text transform="matrix(0.5271,0,0,0.5341,-495.05,47.59)" font-family='"Liberation Sans", sans-serif' font-size="100" font-style="normal" fill="#000" stroke="#000" stroke-width="1.319" stroke-linejoin="round">0</text>
<text transform="matrix(0.3543,0,0,0.3739,-462.80,29.83)" font-family='"Liberation Sans", sans-serif' font-size="100" font-style="normal" fill="#000" stroke="#000" stroke-width="1.922" stroke-linejoin="round">3</text>
<text transform="matrix(0.5434,0,0,0.5269,-424.10,47.59)" font-family='"Liberation Sans", sans-serif' font-size="100" font-style="normal" fill="#000" stroke="#000" stroke-width="1.308" stroke-linejoin="round">d</text><text transform="matrix(0.5401,0,0,0.5241,-392.38,47.60)" font-family='"Liberation Sans", sans-serif' font-size="100" font-style="normal" fill="#000" stroke="#000" stroke-width="1.316" stroke-linejoin="round">e</text><text transform="matrix(0.5434,0,0,0.5161,-361.60,47.09)" font-family='"Liberation Sans", sans-serif' font-size="100" font-style="normal" fill="#000" stroke="#000" stroke-width="1.321" stroke-linejoin="round">g</text>
<text transform="matrix(0.5375,0,0,0.5241,-314.35,47.60)" font-family='"Liberation Sans", sans-serif' font-size="100" font-style="italic" fill="#000" stroke="#000" stroke-width="1.319" stroke-linejoin="round">c</text><text transform="matrix(0.5653,0,0,0.5209,-286.58,47.40)" font-family='"Liberation Sans", sans-serif' font-size="100" font-style="italic" fill="#000" stroke="#000" stroke-width="1.289" stroke-linejoin="round">m</text>
<text transform="matrix(0.3556,0,0,0.3720,-236.09,29.70)" font-family='"Liberation Sans", sans-serif' font-size="100" font-style="normal" fill="#000" stroke="#000" stroke-width="1.924" stroke-linejoin="round">2</text>
<text transform="matrix(0.5434,0,0,0.5269,-196.82,47.59)" font-family='"Liberation Sans", sans-serif' font-size="100" font-style="normal" fill="#000" stroke="#000" stroke-width="1.308" stroke-linejoin="round">d</text><text transform="matrix(0.5697,0,0,0.5204,-164.80,47.40)" font-family='"Liberation Sans", sans-serif' font-size="100" font-style="normal" fill="#000" stroke="#000" stroke-width="1.284" stroke-linejoin="round">m</text><text transform="matrix(0.5315,0,0,0.5241,-116.33,47.60)" font-family='"Liberation Sans", sans-serif' font-size="100" font-style="normal" fill="#000" stroke="#000" stroke-width="1.326" stroke-linejoin="round">o</text><text transform="matrix(0.5111,0,0,0.5243,-85.00,47.40)" font-family='"Liberation Sans", sans-serif' font-size="100" font-style="normal" fill="#000" stroke="#000" stroke-width="1.352" stroke-linejoin="round">l</text>
<text transform="matrix(0.4510,0,0,0.4075,-70.95,32.28)" font-family='"Liberation Sans", sans-serif' font-size="100" font-style="normal" fill="#000" stroke="#000" stroke-width="1.631" stroke-linejoin="round">−</text><text transform="matrix(0.3524,0,0,0.3709,-41.95,29.70)" font-family='"Liberation Sans", sans-serif' font-size="100" font-style="normal" fill="#000" stroke="#000" stroke-width="1.936" stroke-linejoin="round">1</text>
<text transform="matrix(0.4227,0,0,0.4780,-15.65,44.10)" font-family='"Liberation Sans", sans-serif' font-size="100" font-style="normal" fill="#000" stroke="#000" stroke-width="1.554" stroke-linejoin="round">)</text>
</g>
</g>
</svg>
</body></html>
